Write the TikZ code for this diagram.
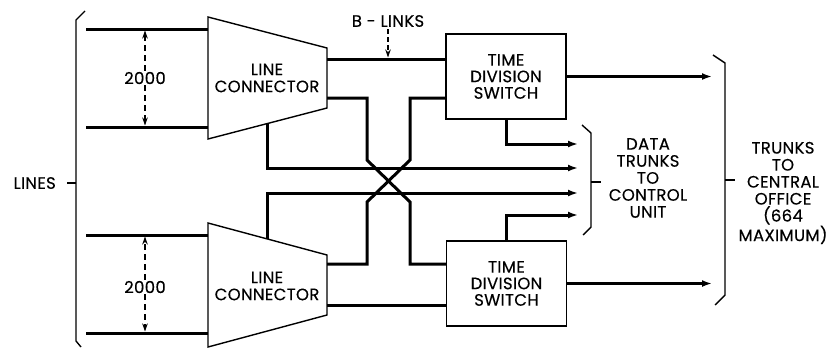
\documentclass[tikz,border=0pt]{standalone}
\usepackage{fontspec}
\setmainfont{Poppins}[LetterSpace=2, FakeBold=0.3]
\usetikzlibrary{arrows.meta,calc}
\begin{document}
\begin{tikzpicture}[x=1pt,y=-1pt,
  wire/.style={line width=3pt},
  thinl/.style={line width=1.4pt},
  arr/.style={wire,-{Latex[length=10pt,width=7pt]}},
  lbl/.style={font=\fontsize{16.5}{17}\selectfont, align=center, inner sep=1pt},
  dim/.style={line width=1.1pt, dash pattern=on 6pt off 4pt, -{Stealth[length=8pt,width=5.5pt]}},
  tds/.style={draw, thinl, minimum width=120pt, minimum height=85pt, inner sep=0, font=\fontsize{16.5}{16.5}\selectfont, align=center}]
\useasboundingbox (0,0) rectangle (835,348);

% ---- line connectors ----
\coordinate (uTL) at (208,17);  \coordinate (uTR) at (327,48);
\coordinate (uBR) at (327,108); \coordinate (uBL) at (208,139);
\draw[thinl] (uTL)--(uTR)--(uBR)--(uBL)--cycle;
\node[lbl] (ulc) at (267,78) {LINE\\CONNECTOR};

\coordinate (lTL) at (208,223); \coordinate (lTR) at (327,255);
\coordinate (lBR) at (327,315); \coordinate (lBL) at (208,347);
\draw[thinl] (lTL)--(lTR)--(lBR)--(lBL)--cycle;
\node[lbl] (llc) at (267,286) {LINE\\CONNECTOR};

% ---- time division switches ----
\node[tds] (tdsU) at (506,76.5) {TIME\\DIVISION\\SWITCH};
\node[tds] (tdsL) at (506.5,283.5) {TIME\\DIVISION\\SWITCH};

% ---- input lines ----
\coordinate (ui1) at (86,29);  \coordinate (ui2) at (86,127);
\coordinate (li1) at (86,235); \coordinate (li2) at (86,333);
\draw[wire] (ui1) -- (ui1 -| uTL);
\draw[wire] (ui2) -- (ui2 -| uTL);
\draw[wire] (li1) -- (li1 -| lTL);
\draw[wire] (li2) -- (li2 -| lTL);

% ---- 2000 dimensions ----
\node[lbl] (d1) at (145,78) {2000};
\draw[dim] (d1) -- ($(d1 |- ui1)+(0,1.5)$);
\draw[dim] (d1) -- ($(d1 |- ui2)+(0,-1.5)$);
\node[lbl] (d2) at (145,287) {2000};
\draw[dim] (d2) -- ($(d2 |- li1)+(0,1.5)$);
\draw[dim] (d2) -- ($(d2 |- li2)+(0,-1.5)$);

% ---- LINES brace ----
\coordinate (lb1) at (85,11); \coordinate (lb2) at (76,20);
\coordinate (lb3) at (76,341); \coordinate (lb4) at (81,347);
\coordinate (lbm) at (76,183); \coordinate (lbt) at (67,183);
\draw[thinl] (lb1)--(lb2)--(lb3)--(lb4);
\draw[thinl] (lbm) -- (lbt);
\node[lbl, anchor=east] (lines) at (57,183) {LINES};

% ---- B-links ----
\coordinate (uo1) at (327,59);
\draw[wire] (uo1) -- (uo1 -| tdsU.west);
\node[lbl] (bl) at (388,21) {B - LINKS};
\draw[line width=1.1pt, dash pattern=on 5pt off 3pt, -{Stealth[length=8pt,width=5.5pt]}] ($(bl.south)+(0,1)$) -- ($(bl |- uo1)+(0,-1.5)$);

% ---- crossing links ----
\coordinate (uo2) at (327,98);
\coordinate (lo1) at (327,264);
\draw[wire] (uo2) -- (367,98) -- (367,160) -- (410,202) -- (410,264) -- (410,264 -| tdsL.west);
\draw[wire] (tdsU.west |- uo2) -- (410,98) -- (410,160) -- (367,202) -- (367,264) -- (lo1);

\coordinate (lo2) at (327,305);
\draw[wire] (lo2) -- (lo2 -| tdsL.west);

% ---- data trunks ----
\coordinate (dt1) at (578,144);
\coordinate (dt2) at (578,168);
\coordinate (dt3) at (578,193);
\coordinate (dt4) at (578,215);
\coordinate (ulcB) at ($(uBL)!0.496!(uBR)$);
\coordinate (llcT) at ($(lTL)!0.496!(lTR)$);
\draw[arr] (tdsU.south) |- (dt1);
\draw[arr] (ulcB) |- (dt2);
\draw[arr] (llcT) |- (dt3);
\draw[arr] (tdsL.north) |- (dt4);

\coordinate (mb1) at (582,125); \coordinate (mb2) at (591,133);
\coordinate (mb3) at (591,227); \coordinate (mb4) at (583,235);
\coordinate (mbm) at (591,182);
\draw[thinl] (mb1)--(mb2)--(mb3)--(mb4);
\coordinate (mbt) at (601,182);
\draw[thinl] (mbm) -- (mbt);
\node[lbl] (dtl) at (648,178) {DATA\\TRUNKS\\TO\\CONTROL\\UNIT};

% ---- trunks to central office ----
\coordinate (tr1) at (712,76.5);
\coordinate (tr2) at (712,283.5);
\draw[arr] (tdsU.east) -- (tr1);
\draw[arr] (tdsL.east) -- (tr2);

\coordinate (rb1) at (713,55); \coordinate (rb2) at (725,63);
\coordinate (rb3) at (725,295); \coordinate (rb4) at (715,305);
\coordinate (rbm) at (725,180); \coordinate (rbt) at (735,180);
\draw[thinl] (rb1)--(rb2)--(rb3)--(rb4);
\draw[thinl] (rbm) -- (rbt);
\node[lbl] (trl) at (783,193) {TRUNKS\\TO\\CENTRAL\\OFFICE\\(664\\MAXIMUM)};
\end{tikzpicture}
\end{document}
